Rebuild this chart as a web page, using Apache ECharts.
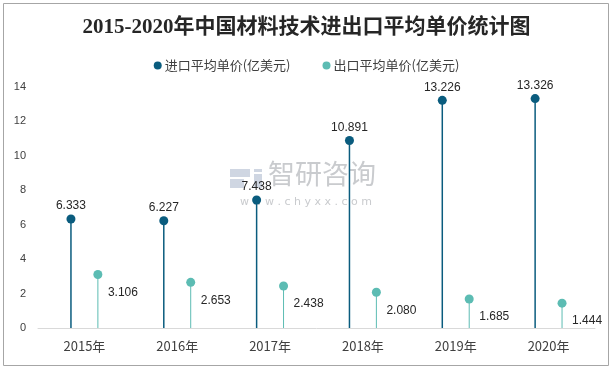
<!DOCTYPE html>
<html>
<head>
<meta charset="utf-8">
<script src="https://cdn.jsdelivr.net/npm/echarts@6/dist/echarts.min.js"></script>
<style>
html,body{margin:0;padding:0;background:#fff;}
#c{width:613px;height:369px;}
</style>
</head>
<body>
<div id="c"></div>
<script>
var years = ['2015年','2016年','2017年','2018年','2019年','2020年'];
var importPrice = [6.333, 6.227, 7.438, 10.891, 13.226, 13.326];
var exportPrice = [3.106, 2.653, 2.438, 2.080, 1.685, 1.444];
var yTicks = [0, 2, 4, 6, 8, 10, 12, 14];
var seriesNames = ['进口平均单价(亿美元)', '出口平均单价(亿美元)'];

var C_IMP = '#0a5c7e';
var C_EXP = '#5cbcb3';
var LABEL_FONT = '12px "Liberation Sans", "Noto Sans CJK SC", sans-serif';

function makeRender(dxFrac, color, lw, r, isImport) {
  return function (params, api) {
    var idx = api.value(0), v = api.value(1);
    var p = api.coord([idx, v]);
    var b = api.coord([idx, 0]);
    var bw = api.size([1, 0])[0];
    var x = p[0] + bw * dxFrac;
    var txt = isImport
      ? {type: 'text', style: {text: v.toFixed(3), x: x, y: p[1] - 13, fill: '#262626', font: LABEL_FONT, textAlign: 'center', textVerticalAlign: 'middle'}}
      : {type: 'text', style: {text: v.toFixed(3), x: x + 10, y: p[1] + 18, fill: '#262626', font: LABEL_FONT, textAlign: 'left', textVerticalAlign: 'middle'}};
    return {
      type: 'group',
      children: [
        {type: 'line', shape: {x1: x, y1: b[1], x2: x, y2: p[1]}, style: {stroke: color, lineWidth: lw}},
        {type: 'circle', shape: {cx: x, cy: p[1], r: r}, style: {fill: color}},
        txt
      ]
    };
  };
}

var chart = echarts.init(document.getElementById('c'), null, {renderer: 'canvas'});
chart.setOption({
  animation: false,
  backgroundColor: '#fff',
  title: {
    text: '2015-2020年中国材料技术进出口平均单价统计图',
    left: 'center',
    top: 12,
    textStyle: {fontFamily: '"Liberation Serif", "Noto Sans CJK SC", serif', fontSize: 21, fontWeight: 'bold', color: '#262626'}
  },
  legend: {
    top: 54,
    left: 'center',
    itemWidth: 8,
    itemHeight: 8,
    itemGap: 32,
    icon: 'circle',
    data: seriesNames,
    textStyle: {fontFamily: '"Noto Sans CJK SC", sans-serif', fontSize: 13, color: '#404040', padding: [0, 0, 0, -2]}
  },
  grid: {left: 38, right: 18, top: 87, bottom: 41},
  xAxis: {
    type: 'category',
    data: years,
    axisLine: {lineStyle: {color: '#d9d9d9', width: 1}},
    axisTick: {show: false},
    axisLabel: {fontFamily: '"Noto Sans CJK SC", sans-serif', fontSize: 13, color: '#404040', margin: 12}
  },
  yAxis: {
    type: 'value',
    min: yTicks[0],
    max: yTicks[yTicks.length - 1],
    interval: yTicks[1] - yTicks[0],
    axisLine: {show: false},
    axisTick: {show: false},
    splitLine: {show: false},
    axisLabel: {fontFamily: '"Liberation Sans", sans-serif', fontSize: 11, color: '#404040', margin: 12}
  },
  graphic: [
    {type: 'rect', shape: {x: 3.5, y: 3.5, width: 605, height: 362}, style: {fill: 'none', stroke: '#a6a6a6', lineWidth: 1}, z: 100},
    {type: 'group', left: 230, top: 169, z: -1, children: [
      {type: 'rect', shape: {x: 0, y: 0, width: 20, height: 8}, style: {fill: '#cfd6e2'}},
      {type: 'rect', shape: {x: 0, y: 10, width: 14, height: 9}, style: {fill: '#cfd6e2'}},
      {type: 'rect', shape: {x: 24, y: 5, width: 8, height: 14}, style: {fill: '#cfd6e2'}},
      {type: 'rect', shape: {x: 24, y: 0, width: 8, height: 3}, style: {fill: '#cfd6e2'}}
    ]},
    {type: 'text', left: 268, top: 160, z: -1, style: {text: '智研咨询', font: '27px "Noto Sans CJK SC", sans-serif', fill: '#c9cbce'}},
    {type: 'text', left: 240, top: 197, z: -1, style: {text: 'w w w . c h y x x . c o m', font: '11px "DejaVu Sans", sans-serif', fill: '#c9cbce'}}
  ],
  series: [
    {name: seriesNames[0], type: 'custom', itemStyle: {color: C_IMP}, renderItem: makeRender(-0.145, C_IMP, 1.5, 4.5, true),
      data: importPrice.map(function (v, i) { return [i, v]; }), encode: {x: 0, y: 1}, z: 3},
    {name: seriesNames[1], type: 'custom', itemStyle: {color: C_EXP}, renderItem: makeRender(0.145, C_EXP, 1, 4.5, false),
      data: exportPrice.map(function (v, i) { return [i, v]; }), encode: {x: 0, y: 1}, z: 3}
  ]
});
</script>
</body>
</html>
